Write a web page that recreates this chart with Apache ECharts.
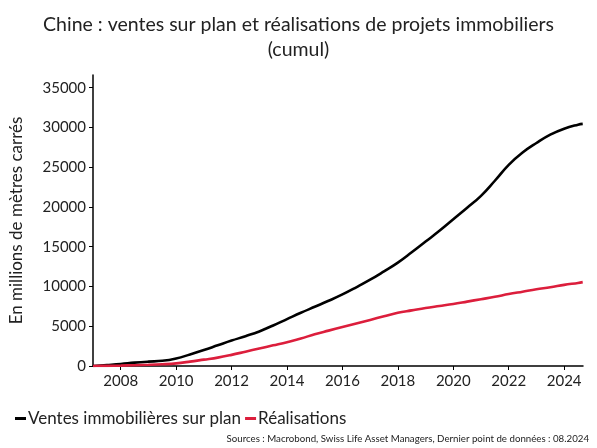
<!DOCTYPE html>
<html>
<head>
<meta charset="utf-8">
<script src="https://cdn.jsdelivr.net/npm/echarts@6/dist/echarts.min.js"></script>
<style>
  html, body { margin: 0; padding: 0; background: #fff; }
  #chart { width: 597px; height: 448px; }
</style>
</head>
<body>
<div id="chart"></div>
<script>
// dates in decimal years (half-yearly, last point = 08.2024)
const dates = [2007, 2007.5, 2008, 2008.5, 2009, 2009.5, 2010, 2010.5, 2011, 2011.5,
  2012, 2012.5, 2013, 2013.5, 2014, 2014.5, 2015, 2015.5, 2016, 2016.5,
  2017, 2017.5, 2018, 2018.5, 2019, 2019.5, 2020, 2020.5, 2021, 2021.5,
  2022, 2022.5, 2023, 2023.5, 2024, 2024.5, 2024.67]
const ventes = [0, 120, 250, 420, 550, 650, 950, 1450, 2000, 2600,
  3200, 3750, 4350, 5100, 5900, 6700, 7450, 8200, 9000, 9900,
  10850, 11900, 13000, 14300, 15650, 17000, 18450, 19900, 21400, 23300,
  25300, 26850, 28050, 29100, 29850, 30350, 30450]
const realisations = [0, 20, 50, 100, 150, 220, 330, 550, 800, 1050,
  1400, 1800, 2200, 2600, 3000, 3450, 4000, 4450, 4900, 5350,
  5800, 6250, 6700, 7000, 7300, 7550, 7800, 8100, 8400, 8700,
  9050, 9350, 9650, 9900, 10200, 10450, 10550]
const yearTicks = [2008, 2010, 2012, 2014, 2016, 2018, 2020, 2022, 2024]
const valueTicks = [0, 5000, 10000, 15000, 20000, 25000, 30000, 35000]

const font = 'Lato, "Open Sans", sans-serif'
const txt = '#222'

const chart = echarts.init(document.getElementById('chart'))
chart.setOption({
  animation: false,
  textStyle: { fontFamily: font },
  title: {
    text: 'Chine : ventes sur plan et réalisations de projets immobiliers\n(cumul)',
    left: 'center',
    top: 7,
    textStyle: { fontFamily: font, fontSize: 19.5, fontWeight: 'normal', color: txt, lineHeight: 25, align: 'center' }
  },
  legend: {
    left: 10,
    top: 405,
    icon: 'rect',
    itemWidth: 11,
    itemHeight: 3,
    itemGap: 4,
    textStyle: { fontFamily: font, fontSize: 17, color: txt, padding: [0, 0, 0, -3] },
    data: ['Ventes immobilières sur plan', 'Réalisations']
  },
  graphic: [{
    type: 'text',
    right: 8,
    top: 434,
    style: {
      text: 'Sources : Macrobond, Swiss Life Asset Managers, Dernier point de données : 08.2024',
      font: '9.7px ' + font,
      fill: txt
    }
  }],
  grid: { left: 88, right: 14, top: 75, bottom: 82 },
  xAxis: {
    type: 'value',
    min: 2007,
    max: 2024.68,
    axisLine: { lineStyle: { color: '#000', width: 1.5 } },
    axisTick: { show: true, length: 4, lineStyle: { color: '#000' }, customValues: yearTicks },
    axisLabel: { fontSize: 15, color: txt, margin: 8, customValues: yearTicks, formatter: v => String(v) },
    splitLine: { show: false }
  },
  yAxis: {
    type: 'value',
    min: 0,
    max: 36600,
    name: 'En millions de mètres carrés',
    nameLocation: 'middle',
    nameGap: 68,
    nameTextStyle: { fontFamily: font, fontSize: 17, color: txt },
    axisLine: { show: true, lineStyle: { color: '#000', width: 1.5 } },
    axisTick: { show: true, length: 4, lineStyle: { color: '#000' }, customValues: valueTicks },
    axisLabel: { fontSize: 15, color: txt, margin: 7, customValues: valueTicks, formatter: v => String(v) },
    splitLine: { show: false }
  },
  series: [
    {
      name: 'Ventes immobilières sur plan',
      type: 'line',
      data: dates.map((d, i) => [d, ventes[i]]),
      smooth: 0.45,
      showSymbol: false,
      itemStyle: { color: '#000' },
      lineStyle: { color: '#000', width: 2.6 }
    },
    {
      name: 'Réalisations',
      type: 'line',
      data: dates.map((d, i) => [d, realisations[i]]),
      smooth: 0.4,
      showSymbol: false,
      itemStyle: { color: '#dc1e3c' },
      lineStyle: { color: '#dc1e3c', width: 2.6 }
    }
  ]
})
</script>
</body>
</html>
